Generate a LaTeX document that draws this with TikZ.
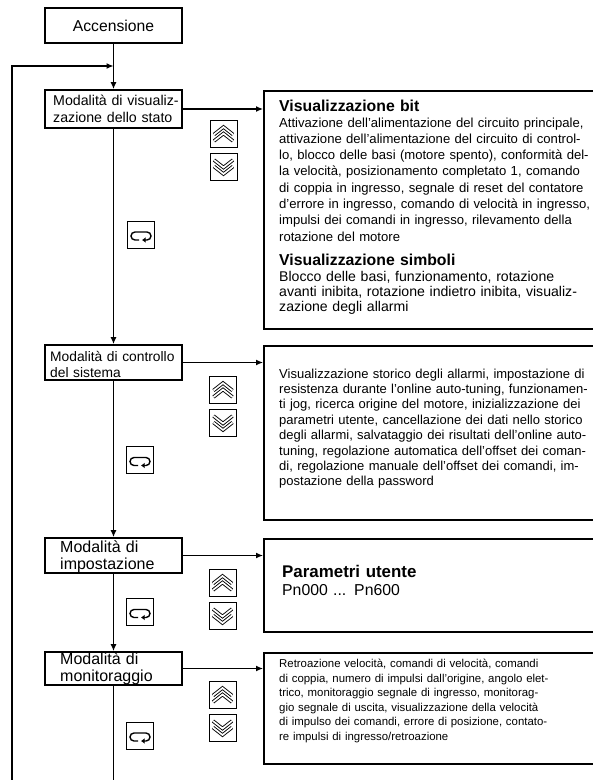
\documentclass[tikz,border=0pt]{standalone}
\usepackage{fontspec}
\setmainfont{Liberation Sans}
\usetikzlibrary{arrows.meta}

\tikzset{
  flow/.style={line width=1.2pt, -{Latex[length=7pt,width=6pt]}},
  modebox/.style={draw, line width=1.8pt, minimum width=137pt, inner sep=0pt},
  modetext/.style={anchor=base west, inner sep=0pt, align=left, text width=160pt,
    font=\fontsize{14.2}{17}\selectfont},
  infobox/.style={draw, line width=1.5pt, anchor=north west, minimum width=340pt, inner sep=0pt},
  infotext/.style={anchor=base west, inner sep=0pt, align=left, text width=330pt},
  infohead/.style={infotext, font=\bfseries\fontsize{15.8}{18}\selectfont},
  keybox/.style={draw, line width=0.9pt, minimum size=27pt, inner sep=0pt},
  chevron/.style={double, line width=0.9pt, double distance=1.7pt},
}

\begin{document}
\begin{tikzpicture}[x=1pt, y=-1pt]
    \useasboundingbox (0,0) rectangle (593,780);
    \clip (0,0) rectangle (593,780);

    % modes on the left
    \node[modebox, font=\fontsize{15.7}{18}\selectfont, minimum height=35pt] (power) at (113.5,25.5) {Accensione};
    \node[modebox, minimum height=38pt] (disp) at (113.5,109) {};
    \node[modetext] (disptext) at (53,105) {Modalità di visualiz-\\zazione dello stato};
    \node[modebox, minimum height=35pt] (sys) at (113.5,362.5) {};
    \node[modetext, font=\fontsize{13.8}{16}\selectfont] (systext) at (50,361) {Modalità di controllo\\del sistema};
    \node[modebox, minimum height=35pt] (setup) at (113.5,555.5) {};
    \node[modetext, font=\fontsize{16}{16.5}\selectfont] (setuptext) at (60,552.5) {Modalità di\\impostazione};
    \node[modebox, minimum height=33pt] (mon) at (113.5,668.5) {};
    \node[modetext, font=\fontsize{16}{16.5}\selectfont] (montext) at (60,664.5) {Modalità di\\monitoraggio};

    % boxes on the right
    \node[infobox, minimum height=238pt] (bitbox) at (263,90) {};
    \node[infohead] (bithead) at (279,111.5) {Visualizzazione bit};
    \node[infotext, font=\fontsize{13.1}{16.3}\selectfont] (bittext) at (279,127)
        {Attivazione dell'alimentazione del circuito principale,\\
         attivazione dell'alimentazione del circuito di control-\\
         lo, blocco delle basi (motore spento), conformità del-\\
         la velocità, posizionamento completato 1, comando\\
         di coppia in ingresso, segnale di reset del contatore\\
         d'errore in ingresso, comando di velocità in ingresso,\\
         impulsi dei comandi in ingresso, rilevamento della\\
         rotazione del motore};
    \node[infohead] (symhead) at (279,265.5) {Visualizzazione simboli};
    \node[infotext, font=\fontsize{14.1}{15.3}\selectfont] (symtext) at (279,281)
        {Blocco delle basi, funzionamento, rotazione\\
         avanti inibita, rotazione indietro inibita, visualiz-\\
         zazione degli allarmi};

    \node[infobox, minimum height=174pt] (histbox) at (263,345) {};
    \node[infotext, font=\fontsize{13}{15.4}\selectfont] (histtext) at (279,378)
        {Visualizzazione storico degli allarmi, impostazione di\\
         resistenza durante l'online auto-tuning, funzionamen-\\
         ti jog, ricerca origine del motore, inizializzazione dei\\
         parametri utente, cancellazione dei dati nello storico\\
         degli allarmi, salvataggio dei risultati dell'online auto-\\
         tuning, regolazione automatica dell'offset dei coman-\\
         di, regolazione manuale dell'offset dei comandi, im-\\
         postazione della password};

    \node[infobox, minimum height=93pt] (pnbox) at (263,538) {};
    \node[infotext, font=\bfseries\fontsize{16.9}{18}\selectfont] (pnhead) at (282,577) {Parametri utente};
    \node[infotext, font=\fontsize{15.8}{18}\selectfont] (pntext) at (282,595) {Pn000 ... Pn600};

    \node[infobox, minimum height=111pt] (monbox) at (263,652) {};
    \node[infotext, font=\fontsize{11.4}{14.5}\selectfont] (monlist) at (279,667.5)
        {Retroazione velocità, comandi di velocità, comandi\\
         di coppia, numero di impulsi dall'origine, angolo elet-\\
         trico, monitoraggio segnale di ingresso, monitorag-\\
         gio segnale di uscita, visualizzazione della velocità\\
         di impulso dei comandi, errore di posizione, contato-\\
         re impulsi di ingresso/retroazione};

    % keys
    \foreach \i/\ux/\uy/\lx/\ly in {1/223.5/134/141/234.5, 2/223/390/140/460,
                                   3/222.5/583/140/612, 4/222.5/695/140/735.5}{
        \node[keybox] (up\i) at (\ux,\uy) {};
        \node[keybox] (down\i) at (\ux,\uy+33) {};
        \node[keybox] (loop\i) at (\lx,\ly) {};
        \draw[chevron] ([shift={(-9.5,0.5)}]up\i.center) -- ++(9.5,-7.5) -- ++(9.5,7.5);
        \draw[chevron] ([shift={(-9.5,7)}]up\i.center) -- ++(9.5,-7.5) -- ++(9.5,7.5);
        \draw[chevron] ([shift={(-9.5,-7)}]down\i.center) -- ++(9.5,7.5) -- ++(9.5,-7.5);
        \draw[chevron] ([shift={(-9.5,-0.5)}]down\i.center) -- ++(9.5,7.5) -- ++(9.5,-7.5);
        \draw[line width=1.4pt, -{Latex[length=3.5pt,width=5.5pt]}]
            ([shift={(-2,5.5)}]loop\i.center) -- ++(-4,0)
            arc[start angle=270, end angle=90, radius=4pt] -- ++(12,0)
            arc[start angle=90, end angle=-90, radius=4pt] -- ++(-5,0);
    }

    % connections
    \coordinate (backstart) at (12,780);
    \coordinate (backend) at (113.5,66);
    \coordinate (tail) at (113.5,780);
    \draw[flow] (power) -- (disp);
    \draw[flow] (disp) -- (sys);
    \draw[flow] (sys) -- (setup);
    \draw[flow] (setup) -- (mon);
    \draw[line width=1.2pt] (mon) -- (tail);
    \draw[flow] (backstart) |- (backend);
    \draw[flow] (disp.east) -- (disp.east -| bitbox.west);
    \draw[flow] (sys.east) -- (sys.east -| histbox.west);
    \draw[flow] (setup.east) -- (setup.east -| pnbox.west);
    \draw[flow] (mon.east) -- (mon.east -| monbox.west);

\end{tikzpicture}
\end{document}
